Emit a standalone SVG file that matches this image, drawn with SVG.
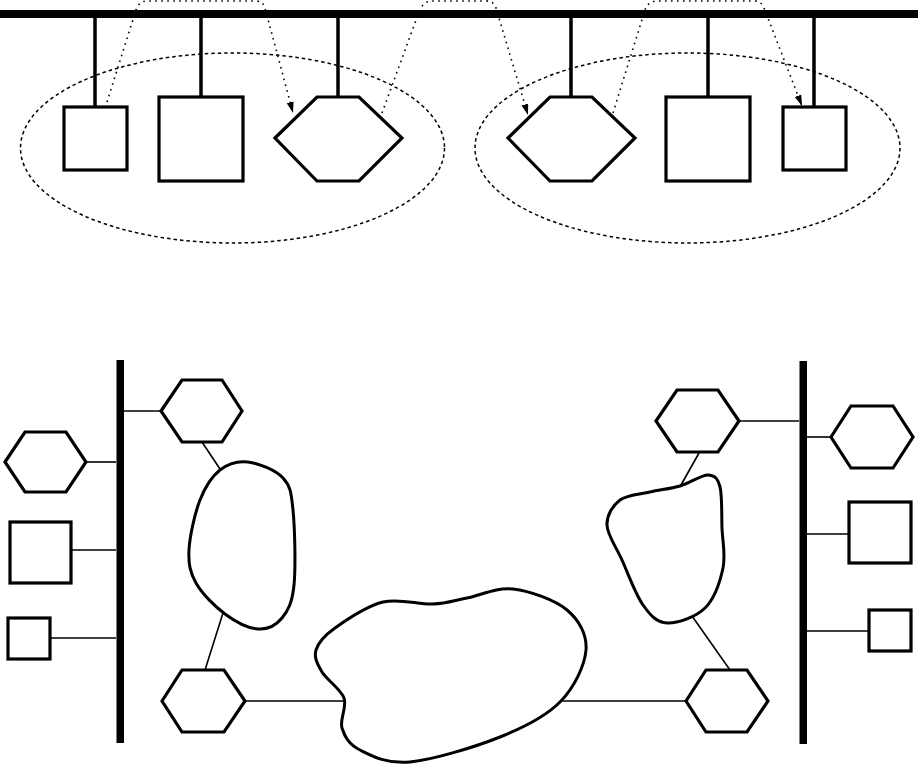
<svg xmlns="http://www.w3.org/2000/svg" width="918" height="764" viewBox="0 0 918 764">
<style>
.n{fill:#fff;stroke:#000;stroke-width:3.2;stroke-linejoin:miter}
.blob{fill:#fff;stroke:#000;stroke-width:3}
.bus{fill:#000;stroke:none}
.stem{stroke:#000;stroke-width:3.5;fill:none}
.thin{stroke:#000;stroke-width:1.6;fill:none}
.grp{fill:none;stroke:#000;stroke-width:1.5;stroke-dasharray:3.5,3}
.dot{fill:none;stroke:#000;stroke-width:1.6;stroke-dasharray:1.6,4.4}
</style>
<defs>
<marker id="ah" markerUnits="userSpaceOnUse" markerWidth="12" markerHeight="8" refX="11" refY="3.5" orient="auto">
<path d="M0,0 L11,3.5 L0,7 z" fill="#000"/>
</marker>
</defs>
<rect width="918" height="764" fill="#fff"/>

<!-- top section -->
<g id="top-bus"><rect class="bus" x="0" y="10" width="918" height="8"/></g>
<g id="group-left"><ellipse class="grp" cx="232.5" cy="148" rx="212" ry="95"/></g>
<g id="group-right"><ellipse class="grp" cx="687.5" cy="148" rx="212.5" ry="95"/></g>

<g id="connectors">
<line class="stem" x1="95" y1="18" x2="95" y2="107"/>
<line class="stem" x1="201" y1="18" x2="201" y2="97"/>
<line class="stem" x1="338" y1="18" x2="338" y2="97"/>
<line class="stem" x1="571" y1="18" x2="571" y2="97"/>
<line class="stem" x1="708" y1="18" x2="708" y2="97"/>
<line class="stem" x1="814" y1="18" x2="814" y2="107"/>
<path class="dot" d="M107,102 L136,10 Q139,1 147,1 L256,1 Q263,1 265,8 L293,113" marker-end="url(#ah)"/>
<path class="dot" d="M382,113 L419,12 Q423,1 432,1 L486,1 Q494,1 496,8 L528,115" marker-end="url(#ah)"/>
<path class="dot" d="M613,113 L645,10 Q648,1 657,1 L755,1 Q761,1 764,8 L802,106" marker-end="url(#ah)"/>
<!-- bottom connectors -->
<line class="thin" x1="124" y1="411" x2="161" y2="411"/>
<line class="thin" x1="86" y1="462" x2="116" y2="462"/>
<line class="thin" x1="72" y1="550" x2="116" y2="550"/>
<line class="thin" x1="50" y1="638" x2="116" y2="638"/>
<line class="thin" x1="202" y1="442" x2="220" y2="469"/>
<line class="thin" x1="223" y1="613" x2="205" y2="670"/>
<line class="thin" x1="245" y1="701" x2="346" y2="701"/>
<line class="thin" x1="562" y1="701" x2="686" y2="701"/>
<line class="thin" x1="739" y1="421" x2="799" y2="421"/>
<line class="thin" x1="807" y1="437" x2="831" y2="437"/>
<line class="thin" x1="807" y1="534" x2="848" y2="534"/>
<line class="thin" x1="807" y1="631" x2="869" y2="631"/>
<line class="thin" x1="699" y1="453" x2="681" y2="485"/>
<line class="thin" x1="692" y1="616" x2="730" y2="670"/>
</g>

<g id="t-sq1"><rect class="n" x="64" y="107" width="63" height="63"/></g>
<g id="t-sq2"><rect class="n" x="159" y="97" width="84" height="84"/></g>
<g id="t-hex1"><polygon class="n" points="275,138 317,97 359,97 402,138 359,181 317,181"/></g>
<g id="t-hex2"><polygon class="n" points="508,138 550,97 592,97 635,138 592,181 550,181"/></g>
<g id="t-sq3"><rect class="n" x="666" y="97" width="84" height="84"/></g>
<g id="t-sq4"><rect class="n" x="783" y="107" width="63" height="63"/></g>

<!-- bottom section -->
<g id="bus-left"><rect class="bus" x="116.5" y="360" width="7.5" height="383"/></g>
<g id="bus-right"><rect class="bus" x="799.5" y="361" width="7.5" height="383"/></g>

<g id="b-hexA"><polygon class="n" points="161,411 182,380 222,380 242,411 222,442 182,442"/></g>
<g id="b-hexB"><polygon class="n" points="5,462 25,432 66,432 86,462 66,492 25,492"/></g>
<g id="b-sqC"><rect class="n" x="10" y="522" width="61" height="61"/></g>
<g id="b-sqD"><rect class="n" x="8" y="618" width="42" height="41"/></g>
<g id="b-hexE"><polygon class="n" points="162,701 182,670 224,670 245,701 224,732 182,732"/></g>

<g id="b-hexG"><polygon class="n" points="656,421 677,390 718,390 739,421 718,452 677,452"/></g>
<g id="b-hexH"><polygon class="n" points="831,437 851,406 893,406 913,437 893,468 851,468"/></g>
<g id="b-sqI"><rect class="n" x="849" y="502" width="62" height="61"/></g>
<g id="b-sqJ"><rect class="n" x="869" y="610" width="42" height="41"/></g>
<g id="b-hexF"><polygon class="n" points="686,701 706,670 747,670 768,701 747,732 706,732"/></g>

<g id="cloud-left"><path class="blob" d="M248,462 C258.5,463.3 275.5,470 283,478 C290.5,486 291.2,492.2 293,510 C294.8,527.8 295.8,567 294,585 C292.2,603 288,610.7 282,618 C276,625.3 267.5,629.7 258,629 C248.5,628.3 235.3,621.7 225,614 C214.7,606.3 202,593.7 196,583 C190,572.3 188.3,563.8 189,550 C189.7,536.2 194.8,513.3 200,500 C205.2,486.7 212,476.3 220,470 C228,463.7 237.5,460.7 248,462 Z"/></g>
<g id="cloud-center"><path class="blob" d="M316,650 C318.2,642.7 323.8,636 335,628 C346.2,620 366.7,606 383,602 C399.3,598 419,604.7 433,604 C447,603.3 453.7,600.5 467,598 C480.3,595.5 496.3,587 513,589 C529.7,591 554.8,599.8 567,610 C579.2,620.2 587.2,634.7 586,650 C584.8,665.3 574.3,687.5 560,702 C545.7,716.5 525,727 500,737 C475,747 433.3,759.8 410,762 C386.7,764.2 371.3,755.7 360,750 C348.7,744.3 344.7,736.7 342,728 C339.3,719.3 347.3,707.3 344,698 C340.7,688.7 326.7,680 322,672 C317.3,664 313.8,657.3 316,650 Z"/></g>
<g id="cloud-right"><path class="blob" d="M680,486 C689.7,483.2 701.3,474.8 708,475 C714.7,475.2 717.7,478.2 720,487 C722.3,495.8 721.5,514.5 722,528 C722.5,541.5 725.8,554.7 723,568 C720.2,581.3 714.3,598.8 705,608 C695.7,617.2 677.3,623.5 667,623 C656.7,622.5 650.5,615.5 643,605 C635.5,594.5 628,573.3 622,560 C616,546.7 607.3,535 607,525 C606.7,515 612.8,505.5 620,500 C627.2,494.5 640,494.3 650,492 C660,489.7 670.3,488.8 680,486 Z"/></g>
</svg>
